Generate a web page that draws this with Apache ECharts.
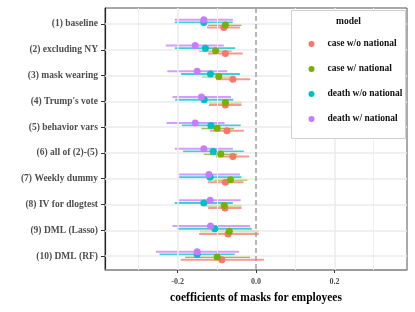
<!DOCTYPE html>
<html>
<head>
<meta charset="utf-8">
<script src="https://cdn.jsdelivr.net/npm/echarts@6/dist/echarts.min.js"></script>
<style>html,body{margin:0;padding:0;background:#fff;}#c{width:415px;height:312px;}</style>
</head>
<body>
<div id="c"></div>
<script>
const categories = ['(1) baseline','(2) excluding NY','(3) mask wearing',"(4) Trump's vote",'(5) behavior vars','(6) all of (2)-(5)','(7) Weekly dummy','(8) IV for dlogtest','(9) DML (Lasso)','(10) DML (RF)'];
const modelNames = ['case w/o national','case w/ national','death w/o national','death w/ national'];
const xTickLabels = [-0.2, 0.0, 0.2];

const caseWoEst = [-0.082,-0.078,-0.059,-0.078,-0.074,-0.059,-0.078,-0.079,-0.071,-0.087];
const caseWoLo  = [-0.125,-0.122,-0.102,-0.120,-0.117,-0.102,-0.123,-0.122,-0.145,-0.192];
const caseWoHi  = [-0.041,-0.034,-0.015,-0.037,-0.031,-0.017,-0.032,-0.037,0.007,0.020];

const caseWEst = [-0.078,-0.103,-0.095,-0.078,-0.099,-0.090,-0.065,-0.081,-0.068,-0.099];
const caseWLo  = [-0.122,-0.145,-0.138,-0.120,-0.139,-0.133,-0.108,-0.126,-0.143,-0.181];
const caseWHi  = [-0.037,-0.062,-0.054,-0.037,-0.056,-0.048,-0.022,-0.037,0.007,-0.015];

const deathWoEst = [-0.133,-0.129,-0.116,-0.132,-0.115,-0.109,-0.117,-0.133,-0.105,-0.150];
const deathWoLo  = [-0.207,-0.207,-0.191,-0.206,-0.189,-0.186,-0.196,-0.207,-0.201,-0.246];
const deathWoHi  = [-0.059,-0.053,-0.041,-0.058,-0.039,-0.031,-0.037,-0.059,-0.011,-0.054];

const deathWEst = [-0.133,-0.155,-0.150,-0.139,-0.155,-0.133,-0.120,-0.117,-0.116,-0.150];
const deathWLo  = [-0.207,-0.230,-0.226,-0.213,-0.228,-0.207,-0.196,-0.196,-0.213,-0.255];
const deathWHi  = [-0.059,-0.082,-0.073,-0.064,-0.080,-0.059,-0.041,-0.039,-0.015,-0.043];

const colors = ['#F8766D','#7CAE00','#00BFC4','#C77CFF'];
const dodge = [0.14, 0.04, -0.06, -0.165];
const groups = [
  [caseWoEst, caseWoLo, caseWoHi],
  [caseWEst, caseWLo, caseWHi],
  [deathWoEst, deathWoLo, deathWoHi],
  [deathWEst, deathWLo, deathWHi]
];
const FONT = '"Liberation Serif", "DejaVu Serif", serif';

const chart = echarts.init(document.getElementById('c'), null, {renderer:'canvas'});

const series = [];
series.push({
  type: 'scatter', data: [], silent: true, z: 1,
  markLine: {
    silent: true, symbol: 'none', label: {show: false}, animation: false,
    data: [
      ...[-0.3,-0.1,0.1,0.3].map(v => ({xAxis: v, lineStyle: {color: '#f0f0f0', width: 1, type: 'solid'}})),
      ...[-0.2,0.2].map(v => ({xAxis: v, lineStyle: {color: '#ebebeb', width: 1.5, type: 'solid'}})),
      ...categories.map((c,i) => ({yAxis: i+1, lineStyle: {color: '#ebebeb', width: 1.5, type: 'solid'}}))
    ]
  }
});
series.push({
  type: 'scatter', data: [], silent: true, z: 2,
  markLine: {
    silent: true, symbol: 'none', label: {show: false}, animation: false,
    data: [{xAxis: 0, lineStyle: {color: '#a0a0a0', width: 1.5, type: [5, 3]}}]
  }
});
groups.forEach((g, k) => {
  series.push({
    type: 'custom', name: modelNames[k], z: 3,
    data: g[0].map((e,i) => [g[1][i], g[2][i], i + 1 + dodge[k]]),
    encode: {x: [0,1], y: 2},
    renderItem: function(params, api){
      const p1 = api.coord([api.value(0), api.value(2)]);
      const p2 = api.coord([api.value(1), api.value(2)]);
      return {type: 'line', shape: {x1: p1[0], y1: p1[1], x2: p2[0], y2: p2[1]},
        style: {stroke: colors[k], lineWidth: 2, opacity: 0.75}};
    }
  });
});
groups.forEach((g, k) => {
  series.push({
    type: 'scatter', name: modelNames[k], z: 5,
    symbol: 'circle', symbolSize: 7,
    itemStyle: {color: colors[k], opacity: 1},
    data: g[0].map((e,i) => [e, i + 1 + dodge[k]])
  });
});

chart.setOption({
  animation: false,
  backgroundColor: '#fff',
  grid: {left: 105, right: 8, top: 8, bottom: 42, show: true, borderColor: '#555', borderWidth: 1, backgroundColor: 'transparent'},
  xAxis: {
    type: 'value', min: -0.385, max: 0.385,
    name: 'coefficients of masks for employees', nameLocation: 'middle', nameGap: 22,
    nameTextStyle: {fontFamily: FONT, fontWeight: 'bold', fontSize: 11.5, color: '#000'},
    axisLine: {show: true, onZero: false, lineStyle: {color: '#999', width: 1.5}},
    axisTick: {show: true, length: 3, customValues: xTickLabels, lineStyle: {color: '#333'}},
    axisLabel: {customValues: xTickLabels, formatter: v => v.toFixed(1), fontFamily: FONT, fontWeight: 'bold', fontSize: 8, color: '#4d4d4d', margin: 8},
    splitLine: {show: false}
  },
  yAxis: {
    type: 'value', inverse: true, min: 0.38, max: 10.54,
    axisLine: {show: true, onZero: false, lineStyle: {color: '#222', width: 1.2}},
    axisTick: {show: true, length: 4, customValues: categories.map((c,i)=>i+1), lineStyle: {color: '#333'}},
    axisLabel: {customValues: categories.map((c,i)=>i+1), formatter: v => categories[Math.round(v)-1] || '', fontFamily: FONT, fontWeight: 'bold', fontSize: 9.5, color: '#4d4d4d', margin: 7},
    splitLine: {show: false}
  },
  legend: {
    z: 100,
    data: modelNames.map((n,k)=>({name: n, icon: 'circle', itemStyle: {color: colors[k]}})),
    orient: 'vertical', left: 308.5, top: 39, itemWidth: 22, itemHeight: 6, itemGap: 15,
    padding: 0, selectedMode: false,
    textStyle: {fontFamily: FONT, fontWeight: 'bold', fontSize: 9.5, color: '#111'}
  },
  graphic: [
    {type: 'rect', left: 291, top: 10, z: 20, shape: {width: 114, height: 128}, style: {fill: '#fff', stroke: '#d0d0d0', lineWidth: 1}},
    {type: 'text', left: 336, top: 17, z: 21, style: {text: 'model', font: 'bold 9.5px ' + FONT, fill: '#111'}}
  ],
  series: series
});
</script>
</body>
</html>
